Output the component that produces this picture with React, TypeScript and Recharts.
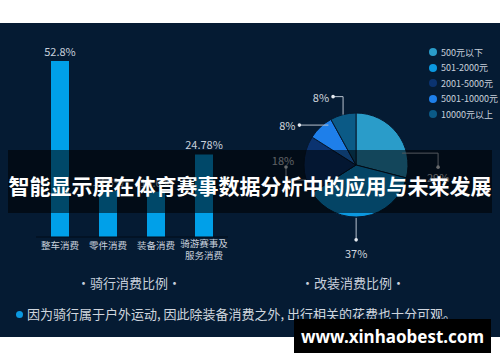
import { BarChart, Bar, XAxis, YAxis, LabelList, PieChart, Pie, Cell, Legend } from 'recharts';

const FONT = "'Noto Sans CJK SC', 'Noto Sans', sans-serif";
const TEXT = '#c8d0dc';

// 骑行消费比例
const BAR_CATEGORIES = ['整车消费', '零件消费', '装备消费', '骑游赛事及\n服务消费'];
const BAR_VALUES = [52.8, 13.8, 13.6, 24.78];

// 改装消费比例
const PIE_NAMES = ['500元以下', '501-2000元', '2001-5000元', '5001-10000元', '10000元以上'];
const PIE_VALUES = [29, 37, 18, 8, 8];
const PIE_COLORS = ['#2a9cc9', '#0b98e0', '#0b3370', '#1e7fea', '#0b5a86'];

const TITLE = '智能显示屏在体育赛事数据分析中的应用与未来发展';
const NOTE = '因为骑行属于户外运动, 因此除装备消费之外, 出行相关的花费也十分可观。';

const barData = BAR_CATEGORIES.map((name, i) => ({ name, value: BAR_VALUES[i] }));
const pieData = PIE_NAMES.map((name, i) => ({ name, value: PIE_VALUES[i] }));

const RAD = Math.PI / 180;

// elbow guide lines for each slice label: start offset, segments, text offset
const LABEL_GUIDES: { start: number[]; steps: number[][]; text: [number, number, string] }[] = [
    { start: [5, 20], steps: [[36, 0], [0, 14]], text: [0, 10, 'middle'] },
    { start: [-8, 1.5], steps: [[0, 22]], text: [0, 13, 'middle'] },
    { start: [2, 15], steps: [[-20, 0], [0, -13]], text: [-3, -7.5, 'middle'] },
    { start: [8, -2], steps: [[-29, 0]], text: [-4, 0, 'end'] },
    { start: [0, 0], steps: [[0, -18], [-10, 0]], text: [-4, 0, 'end'] },
];

function renderPieLabel(props: any) {
    const { cx, cy, midAngle, outerRadius, index, value } = props;
    const g = LABEL_GUIDES[index];
    const bx = cx + outerRadius * Math.cos(-midAngle * RAD);
    const by = cy + outerRadius * Math.sin(-midAngle * RAD);
    let x = bx + g.start[0];
    let y = by + g.start[1];
    const pts = [[x, y]];
    for (const [dx, dy] of g.steps) {
        x += dx;
        y += dy;
        pts.push([x, y]);
    }
    return (
        <g key={`pie-label-${index}`}>
            <polyline points={pts.map((p) => p.join(',')).join(' ')} fill="none" stroke="#b8c2ce" strokeWidth={1} />
            <circle cx={x} cy={y} r={1.8} fill="#e6eaf0" />
            <text
                x={x + g.text[0]}
                y={y + g.text[1]}
                textAnchor={g.text[2] as any}
                dominantBaseline="central"
                fill="#d0d6de"
                fontSize={11}
                fontFamily={FONT}
            >
                {value}%
            </text>
        </g>
    );
}

function CategoryTick({ x, y, payload }: any) {
    const lines = String(payload.value).split('\n');
    return (
        <text x={x} y={y} textAnchor="middle" fill={TEXT} fontSize={9.5} fontFamily={FONT}>
            {lines.map((line, i) => (
                <tspan key={i} x={x} dy={i === 0 ? (lines.length > 1 ? 1.5 : 3.5) : 12}>
                    {line}
                </tspan>
            ))}
        </text>
    );
}

function PieLegend() {
    return (
        <div style={{ display: 'flex', flexDirection: 'column', fontFamily: FONT }}>
            {PIE_NAMES.map((name, i) => (
                <div key={name} style={{ height: 15.5, display: 'flex', alignItems: 'center' }}>
                    <span
                        style={{
                            width: 8,
                            height: 8,
                            borderRadius: '50%',
                            background: PIE_COLORS[i],
                            marginRight: 4,
                            flexShrink: 0,
                        }}
                    />
                    <span style={{ fontSize: 9, color: TEXT, whiteSpace: 'nowrap' }}>{name}</span>
                </div>
            ))}
        </div>
    );
}

export default function App() {
    return (
        <div style={{ position: 'absolute', left: 0, top: 0, width: 500, height: 362, background: '#fff', overflow: 'hidden', fontFamily: FONT }}>
            <div style={{ position: 'absolute', left: 0, top: 23, width: 500, height: 314, background: '#051b33' }}>
                {/* bar chart */}
                <div style={{ position: 'absolute', left: 0, top: 0 }}>
                    <BarChart width={250} height={250} data={barData} margin={{ top: 14, right: 22, left: 36, bottom: 6 }}>
                        <XAxis
                            dataKey="name"
                            axisLine={{ stroke: '#020c18' }}
                            tickLine={false}
                            interval={0}
                            height={30}
                            tick={<CategoryTick />}
                        />
                        <YAxis hide domain={[0, 60]} />
                        <Bar dataKey="value" fill="#00a0e9" barSize={18} isAnimationActive={false}>
                            <LabelList
                                dataKey="value"
                                position="top"
                                offset={5}
                                formatter={(v: any) => `${v}%`}
                                fill={TEXT}
                                fontSize={11}
                                fontFamily={FONT}
                            />
                        </Bar>
                    </BarChart>
                </div>

                {/* pie chart */}
                <div style={{ position: 'absolute', left: 250, top: 0 }}>
                    <PieChart width={250} height={250}>
                        <Pie
                            data={pieData}
                            dataKey="value"
                            nameKey="name"
                            cx={101}
                            cy={137}
                            outerRadius={52}
                            startAngle={90}
                            endAngle={-270}
                            stroke="#06182e"
                            strokeWidth={1}
                            label={renderPieLabel}
                            labelLine={false}
                            isAnimationActive={false}
                        >
                            {pieData.map((d, i) => (
                                <Cell key={d.name} fill={PIE_COLORS[i]} />
                            ))}
                        </Pie>
                        <Legend content={<PieLegend />} wrapperStyle={{ position: 'absolute', left: 179, top: 21.5, width: 72 }} />
                    </PieChart>
                </div>

                {/* captions */}
                <div style={{ position: 'absolute', left: 0, top: 251, width: 258, textAlign: 'center', fontSize: 13, lineHeight: '18px', color: TEXT }}>
                    ·骑行消费比例·
                </div>
                <div style={{ position: 'absolute', left: 224, top: 251, width: 258, textAlign: 'center', fontSize: 13, lineHeight: '18px', color: TEXT }}>
                    ·改装消费比例·
                </div>
                <div style={{ position: 'absolute', left: 15.5, top: 287.5, width: 7, height: 7, borderRadius: '50%', background: '#0b98e0' }} />
                <div style={{ position: 'absolute', left: 27, top: 282, fontSize: 13, lineHeight: '18px', color: '#d0d6de', whiteSpace: 'nowrap' }}>
                    {NOTE}
                </div>
            </div>

            {/* title banner */}
            <div
                style={{
                    position: 'absolute',
                    left: 8,
                    top: 150,
                    width: 484,
                    height: 63,
                    background: 'rgba(0,0,0,0.55)',
                    display: 'flex',
                    alignItems: 'center',
                    justifyContent: 'center',
                    paddingTop: 6,
                    boxSizing: 'border-box',
                }}
            >
                <span style={{ color: '#fff', fontSize: 21, fontWeight: 700, whiteSpace: 'nowrap' }}>{TITLE}</span>
            </div>

            {/* watermark */}
            <div
                style={{
                    position: 'absolute',
                    left: 294,
                    top: 319,
                    width: 197,
                    height: 34,
                    background: '#000',
                    display: 'flex',
                    alignItems: 'center',
                    justifyContent: 'center',
                }}
            >
                <span style={{ color: '#fff', fontSize: 17, fontWeight: 700, fontFamily: "'Noto Sans', sans-serif" }}>www.xinhaobest.com</span>
            </div>
        </div>
    );
}
